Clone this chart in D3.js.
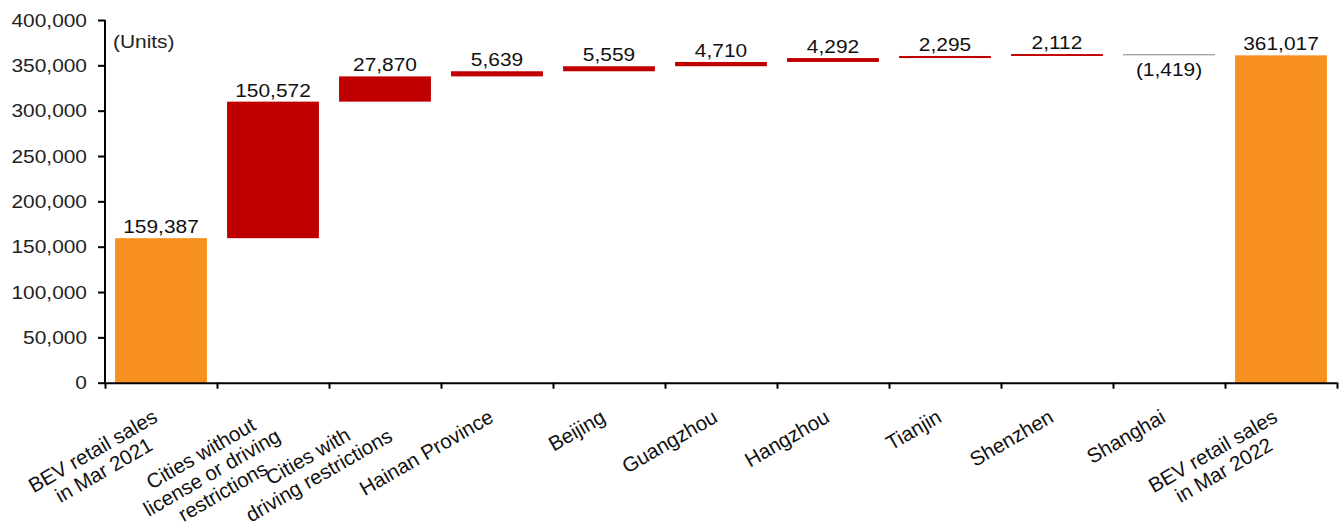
<!DOCTYPE html>
<html>
<head>
<meta charset="utf-8">
<script src="https://cdn.jsdelivr.net/npm/d3@7"></script>
<style>
  html, body { margin: 0; padding: 0; background: #fff; }
  svg { display: block; font-family: Arial, "Liberation Sans", sans-serif; }
</style>
</head>
<body>
<svg id="chart" width="1344" height="530"></svg>
<script>
// ---- data ----
const categories = [
  "BEV retail sales\nin Mar 2021",
  "Cities without\nlicense or driving\nrestrictions",
  "Cities with\ndriving restrictions",
  "Hainan Province",
  "Beijing",
  "Guangzhou",
  "Hangzhou",
  "Tianjin",
  "Shenzhen",
  "Shanghai",
  "BEV retail sales\nin Mar 2022"
];
const values = [159387, 150572, 27870, 5639, 5559, 4710, 4292, 2295, 2112, -1419, 361017];
const barTypes = ["total", "delta", "delta", "delta", "delta", "delta", "delta", "delta", "delta", "delta", "total"];
const yTicks = [0, 50000, 100000, 150000, 200000, 250000, 300000, 350000, 400000];
const unitLabel = "(Units)";

// ---- build waterfall ----
let running = 0;
const bars = categories.map((c, i) => {
  let lo, hi;
  if (barTypes[i] === "total") { lo = 0; hi = values[i]; running = values[i]; }
  else { const s = running; running += values[i]; lo = Math.min(s, running); hi = Math.max(s, running); }
  return { cat: c, i, value: values[i], type: barTypes[i], lo, hi };
});

const colors = { total: "#F7901E", up: "#C00000", down: "#A0A0A0" };
const fmt = d3.format(",");
const label = v => v < 0 ? "(" + fmt(-v) + ")" : fmt(v);
const SX = 1.1; // horizontal stretch of number text seen in the reference

const svg = d3.select("#chart");
const x0 = 105, x1 = 1337, yBase = 382.7, yTop = 20;

const x = d3.scaleBand().domain(d3.range(categories.length)).range([x0, x1])
  .paddingInner(0.18).paddingOuter(0.09);
const xb = d3.scaleLinear().domain([0, categories.length]).range([x0, x1]);
const y = d3.scaleLinear().domain([0, 400000]).range([yBase, yTop]);

// bars
svg.append("g").selectAll("rect").data(bars).join("rect")
  .attr("x", d => x(d.i))
  .attr("width", x.bandwidth())
  .attr("y", d => y(d.hi))
  .attr("height", d => Math.max(1, y(d.lo) - y(d.hi)))
  .attr("fill", d => d.type === "total" ? colors.total : (d.value < 0 ? colors.down : colors.up));

// value labels
svg.append("g").selectAll("text").data(bars).join("text")
  .attr("transform", d => `translate(${x(d.i) + x.bandwidth() / 2},${d.value < 0 ? y(d.lo) + 21 : y(d.hi) - 5}) scale(${SX},1)`)
  .attr("text-anchor", "middle")
  .attr("font-size", 19)
  .attr("fill", "#111")
  .text(d => label(d.value));

// y axis
const yAxis = svg.append("g").attr("transform", `translate(${x0},0)`)
  .call(d3.axisLeft(y).tickValues(yTicks).tickFormat(fmt).tickSize(7).tickPadding(11));
yAxis.select(".domain").attr("stroke", "#000").attr("stroke-width", 2).attr("d", `M-0,${yTop}V${yBase}`);
yAxis.selectAll(".tick line").attr("stroke", "#000").attr("stroke-width", 2);
yAxis.selectAll(".tick text").attr("font-size", 19).attr("fill", "#222")
  .attr("font-family", "Arial, 'Liberation Sans', sans-serif")
  .attr("x", 0).attr("transform", `translate(-18,0) scale(${SX},1)`);

// x axis (ticks at category boundaries)
const xAxis = svg.append("g").attr("transform", `translate(0,${yBase})`)
  .call(d3.axisBottom(xb).tickValues(d3.range(categories.length + 1)).tickFormat("").tickSize(6).tickSizeOuter(0));
xAxis.select(".domain").attr("stroke", "#000").attr("stroke-width", 2);
xAxis.selectAll(".tick line").attr("stroke", "#000").attr("stroke-width", 2);

// category labels (rotated, multi-line, centered)
const lineH = 22, ang = 30;
const cg = svg.append("g").selectAll("g").data(bars).join("g")
  .attr("transform", d => `translate(${x(d.i) + x.bandwidth() / 2 - 9.5},${yBase + 25.3}) rotate(${-ang})`);
cg.each(function(d) {
  const g = d3.select(this);
  const lines = d.cat.split("\n");
  const ts = lines.map((t, k) => g.append("text")
    .attr("font-size", 20.5).attr("fill", "#111")
    .attr("y", 15 + k * lineH).text(t));
  const w = d3.max(ts, t => t.node().getComputedTextLength());
  ts.forEach(t => t.attr("text-anchor", "middle").attr("x", -w / 2));
});

// unit label
svg.append("text").attr("transform", `translate(113,48) scale(${SX},1)`)
  .attr("font-size", 19).attr("fill", "#222").text(unitLabel);
</script>
</body>
</html>
